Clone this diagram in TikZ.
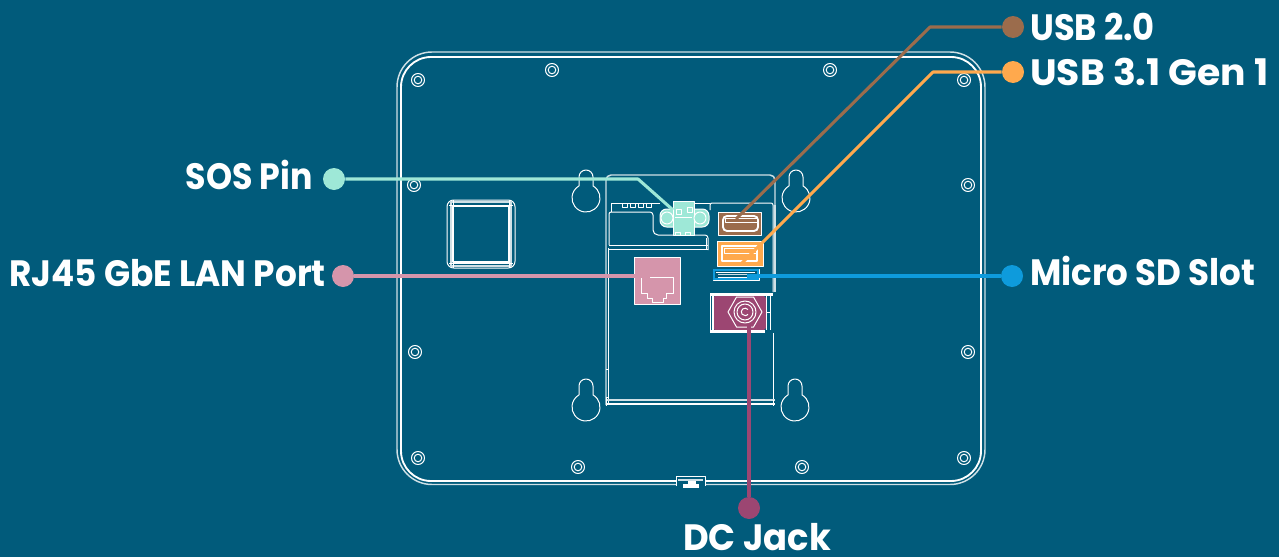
\documentclass[tikz,border=0pt]{standalone}
\usepackage{graphicx}
\usepackage{fontspec}
\setmainfont{Poppins}
\definecolor{bgc}{HTML}{015B7B}
\definecolor{sosc}{HTML}{9EE8D7}
\definecolor{brownc}{HTML}{9B6C4C}
\definecolor{orangec}{HTML}{FFA94D}
\definecolor{bluec}{HTML}{0E9BDC}
\definecolor{pinkc}{HTML}{D595AB}
\definecolor{plumc}{HTML}{9C4672}
\definecolor{softw}{HTML}{CFE0E6}
\newcommand{\sq}[2]{\scalebox{#1}[1]{#2}}
\tikzset{
  px/.style={x=.75pt,y=-.75pt},
  wl/.style={draw=white,line width=.75pt,line join=round},
  wt/.style={draw=white,line width=1.4pt,line join=round},
  sl/.style={draw=softw,line width=1.1pt,line join=round},
  lead/.style={line width=2.3pt,line join=round},
  dot/.style={circle,inner sep=0pt,minimum size=16.5pt},
  lab/.style={text=white,font=\fontsize{27.5pt}{30pt}\bfseries,inner sep=0pt},
  screw/.pic={\draw[wl] (0,0) circle[radius=6.5]; \draw[wl] (0,0) circle[radius=3.8];},
  keyhole/.pic={\draw[wl] (-7,-12.1) -- (-7,-21) arc[start angle=180,end angle=360,radius=7] -- (7,-12.1)
     arc[start angle=-60,end angle=240,radius=14];}
}
\begin{document}
\begin{tikzpicture}[px]
\useasboundingbox[fill=bgc] (0,0) rectangle (1279,557);
% bezel
\draw[sl] (676,484.5) -- (432,484.5) arc[start angle=90,end angle=180,radius=35] -- (397,87) arc[start angle=180,end angle=270,radius=35] -- (950,52) arc[start angle=270,end angle=360,radius=35] -- (985,449.5) arc[start angle=0,end angle=90,radius=35] -- (705,484.5);
\draw[wt] (676,481) -- (431,481) arc[start angle=90,end angle=180,radius=30] -- (401,87) arc[start angle=180,end angle=270,radius=30] -- (951,57) arc[start angle=270,end angle=360,radius=30] -- (981,451) arc[start angle=0,end angle=90,radius=30] -- (705,481);
\draw[wl] (676,486) -- (676,476) -- (705,476) -- (705,486);
\draw[sl] (678,480) -- (703,480);
\fill[white] (683,484) rectangle (699,488);
\fill[white] (688,481) rectangle (696,484);
% screws
\foreach \p in {(418,80),(552,70),(830,70),(964,80),(414,185),(968,185),(415,352),(968,352),(418,458),(578,467),(802,467),(964,458)}
  \pic at \p {screw};
% keyholes
\foreach \p in {(586,198),(796,198),(586,407),(795,407)}
  \pic at \p {keyhole};
% square
\draw[wl,rounded corners=5] (447,200) rectangle (515,268);
\draw[sl] (451,202) rectangle (511,266);
\draw[wt] (453,206) rectangle (509,262);
\draw[wl] (449,205) -- (513,205) (449,263) -- (513,263) (453,200) -- (453,268) (509,200) -- (509,268);
% enclosure
\draw[sl] (606,405) -- (606,180) arc[start angle=180,end angle=270,radius=5] -- (770,175) arc[start angle=270,end angle=360,radius=5] -- (775,205);
\draw[wl] (608.5,405) -- (608.5,248);
\draw[wl] (609,245) -- (609,214) arc[start angle=180,end angle=270,radius=2] -- (650,212) arc[start angle=270,end angle=360,radius=3] -- (653,230) arc[start angle=180,end angle=90,radius=5] -- (705,235) arc[start angle=270,end angle=360,radius=3] -- (708,250);
\draw[wl] (611,212) -- (611,203) -- (660,203);
\foreach \x in {622,630,638,646} \draw[wl] (\x,203) rectangle ++(5,4);
\draw[wl] (695,203) -- (710,203);
\draw[wl] (710,210) -- (710,205) arc[start angle=180,end angle=270,radius=2] -- (771,203) arc[start angle=270,end angle=360,radius=2] -- (773,292);
\draw[sl] (775,205) -- (775,292);
\draw[wl] (609,245) -- (708,245);
\draw[wl] (609,249) -- (708,249);
\draw[wl] (706,238) -- (706,250);
\draw[wl] (773,333) -- (773,405);
\draw[sl] (606,400) -- (775,400);
\draw[wt] (606,404) -- (775,404);
\draw[wl] (606,369) -- (608,369) (606,397) -- (608,397) (606,397) -- (606,406) (773,400) -- (773,406);
% SOS block
\draw[wl,fill=sosc,rounded corners=5] (660,209) rectangle (709,227);
\draw[wl,fill=sosc] (673,201) rectangle (694,235);
\draw[wl,fill=sosc] (667,218) circle[radius=6];
\draw[wl,fill=sosc] (700,218) circle[radius=6];
\draw[wl] (676,209) rectangle ++(5,5) (687,207) rectangle ++(5,5);
\draw[wl] (675,217) -- (692,217);
\draw[wl] (675,232) rectangle (680,235) (685,232) rectangle (690,235);
% USB 2.0
\draw[wl,fill=brownc] (718,212) rectangle (761,235);
\draw[wt,rounded corners=3,fill=brownc] (723,216) rectangle (758,231);
\draw[wl,fill=brownc] (725,218) rectangle (757,222);
% USB 3.1
\draw[wl,fill=orangec] (717,241) rectangle (763,266);
\draw[wt] (722,246) rectangle (757,261);
\draw[wl] (724,248) rectangle (756,253);
% SD
\draw[wl,fill=bgc] (713,269) rectangle (759,280);
\draw[bluec,line width=.9pt] (714,270) rectangle (758,279);
\draw[wl] (716,272) -- (755,272) (718,277) -- (755,277);
\draw[softw,line width=.9pt] (718,274.5) -- (750,274.5);
% RJ45
\draw[wl,fill=pinkc] (634,257) rectangle (680,304);
\draw[wl] (641,277) -- (673,277) -- (673,293) -- (666,293) -- (666,298) -- (663,298) -- (663,302) -- (652,302) -- (652,298) -- (647,298) -- (647,293) -- (641,293) -- cycle;
% DC jack
\fill[plumc,rounded corners=2] (713,296) rectangle (766,330);
\fill[white] (710,292.5) rectangle (773,295.5);
\fill[white] (710,329.5) rectangle (765,332.5);
\draw[wt] (713,296) -- (713,330);
\draw[wl] (710,296) -- (710,330);
\draw[wl] (766,296) -- (766,330) (770,296) -- (770,330) (766,312) -- (770,312);
\draw[wl] (728,312) -- (736.5,297) -- (753.5,297) -- (762,312) -- (753.5,327) -- (736.5,327) -- cycle;
\draw[wl] (745,312) circle[radius=11];
\draw[wl] (745,312) circle[radius=8];
\draw[wl] (748,309.5) arc[start angle=-40,end angle=-320,radius=3.8];
% labels and dots
\node[dot,fill=brownc] (usbtwo) at (1013,27) {};
\node[dot,fill=orangec] (usbthree) at (1013,72) {};
\node[dot,fill=bluec] (sd) at (1012,276) {};
\node[dot,fill=sosc] (sos) at (334,179) {};
\node[dot,fill=pinkc] (rj) at (343,276) {};
\node[dot,fill=plumc] (dc) at (749,508) {};
\coordinate (usbtwoA) at (930,27);
\coordinate (usbtwoB) at (736,219);
\coordinate (usbthreeA) at (933,72);
\coordinate (usbthreeB) at (742,263);
\coordinate (sdB) at (747,276);
\coordinate (sosA) at (638,179);
\coordinate (sosB) at (673,210);
\coordinate (rjB) at (650,276);
\coordinate (dcB) at (749,325);
\draw[lead,brownc] (usbtwo) -- (usbtwoA) -- (usbtwoB);
\draw[lead,orangec] (usbthree) -- (usbthreeA) -- (usbthreeB);
\draw[lead,bluec] (sd) -- (sdB);
\draw[lead,sosc] (sos) -- (sosA) -- (sosB);
\draw[lead,pinkc] (rj) -- (rjB);
\draw[lead,plumc] (dc) -- (dcB);
\node[lab,anchor=base west] (tusbtwo) at (1030,40) {\sq{.92}{USB 2.0}};
\node[lab,anchor=base west] (tusbthree) at (1030,85) {\sq{1.03}{USB 3.1 Gen 1}};
\node[lab,anchor=base west] (tsd) at (1030,285) {\sq{.93}{Micro SD Slot}};
\node[lab,anchor=base east] (tsos) at (313,189) {\sq{.906}{SOS Pin}};
\node[lab,anchor=base east] (trj) at (326,286) {\sq{.935}{RJ45 GbE LAN Port}};
\node[lab,anchor=base] (tdc) at (757,550) {\sq{.964}{DC Jack}};
\end{tikzpicture}
\end{document}
